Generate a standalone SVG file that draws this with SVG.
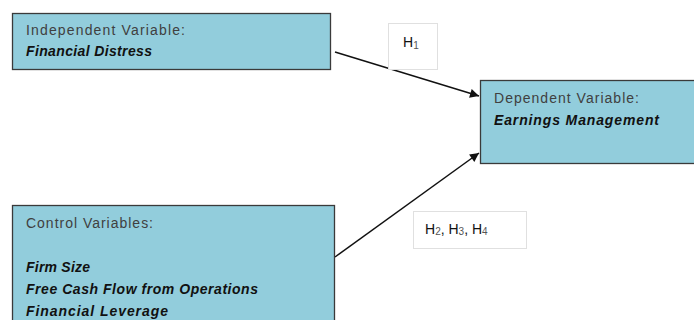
<svg xmlns="http://www.w3.org/2000/svg" width="694" height="320" viewBox="0 0 694 320">
<style>
.box{fill:#92CDDC;stroke:#3a3a3a;stroke-width:1.3}
.hbox{fill:#fff;stroke:#e0e0e0;stroke-width:1}
.lbl{font-family:"Liberation Sans",Arial,sans-serif;font-size:14px;fill:#404040}
.val{font-family:"Liberation Sans",Arial,sans-serif;font-size:14px;font-style:italic;font-weight:bold;fill:#111}
.h{font-family:"Liberation Sans",Arial,sans-serif;font-size:14px;fill:#111}
.sub{font-size:10px;fill:#555}
.conn{stroke:#111;stroke-width:1.5;fill:none;marker-end:url(#arr)}
</style>
<defs>
<marker id="arr" viewBox="0 0 10 10" refX="10" refY="5" markerWidth="10" markerHeight="9" markerUnits="userSpaceOnUse" orient="auto">
<path d="M0,0 L10,5 L0,10 z" fill="#111"/>
</marker>
</defs>
<rect width="694" height="320" fill="#fff"/>
<g id="connectors">
<line class="conn" x1="335" y1="52" x2="479" y2="96"/>
<line class="conn" x1="335" y1="257" x2="479" y2="153"/>
</g>
<g id="independent">
<rect class="box" x="12.5" y="13.5" width="318" height="56"/>
<text class="lbl" x="26" y="35" textLength="159" lengthAdjust="spacing">Independent Variable:</text>
<text class="val" x="26" y="56" textLength="126" lengthAdjust="spacing">Financial Distress</text>
</g>
<g id="dependent">
<rect class="box" x="480.5" y="80.5" width="230" height="83"/>
<text class="lbl" x="494" y="103" textLength="145" lengthAdjust="spacing">Dependent Variable:</text>
<text class="val" x="494" y="125" textLength="165" lengthAdjust="spacing">Earnings Management</text>
</g>
<g id="control">
<rect class="box" x="12.5" y="205.5" width="322" height="130"/>
<text class="lbl" x="26" y="228" textLength="127" lengthAdjust="spacing">Control Variables:</text>
<text class="val" x="26" y="272" textLength="64" lengthAdjust="spacing">Firm Size</text>
<text class="val" x="26" y="294" textLength="232" lengthAdjust="spacing">Free Cash Flow from Operations</text>
<text class="val" x="26" y="316" textLength="142" lengthAdjust="spacing">Financial Leverage</text>
</g>
<g id="h1">
<rect class="hbox" x="388.5" y="23.5" width="49" height="46"/>
<text class="h" x="403" y="47">H<tspan class="sub" dy="2">1</tspan></text>
</g>
<g id="h234">
<rect class="hbox" x="413.5" y="211.5" width="113" height="37"/>
<text class="h" x="425" y="234">H<tspan class="sub" dy="1">2</tspan><tspan dy="-1">, H</tspan><tspan class="sub" dy="1">3</tspan><tspan dy="-1">, H</tspan><tspan class="sub" dy="1">4</tspan></text>
</g>
</svg>
